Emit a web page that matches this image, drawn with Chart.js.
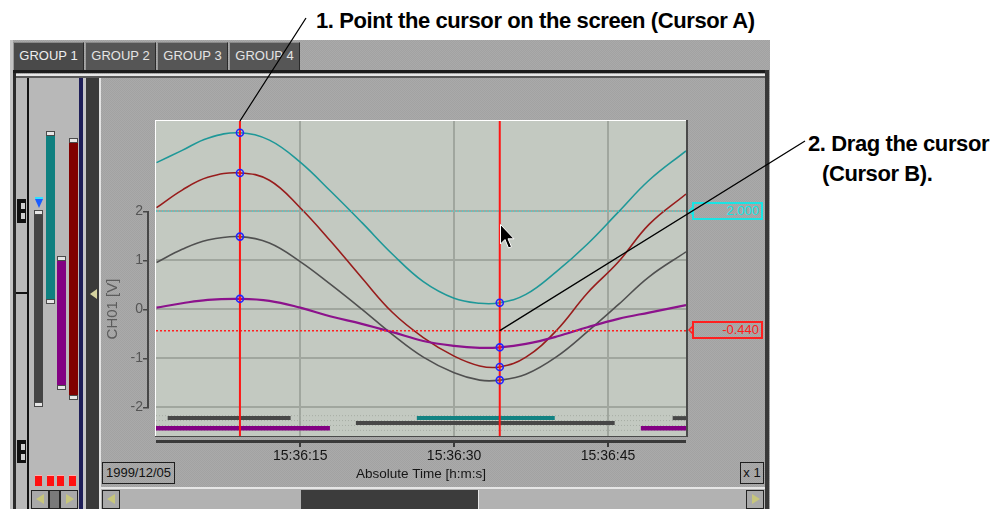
<!DOCTYPE html>
<html><head><meta charset="utf-8">
<script src="https://cdn.jsdelivr.net/npm/chart.js@4.4.1/dist/chart.umd.min.js"></script>
<style>
html,body{margin:0;padding:0;}
body{width:999px;height:509px;overflow:hidden;background:#fff;position:relative;font-family:"Liberation Sans",Arial,sans-serif;}
.a{position:absolute;box-sizing:border-box;}
.tex{background:repeating-conic-gradient(#a2a2a2 0 25%, #aaaaaa 0 50%) 0 0/2px 2px;}
.tab{position:absolute;top:42px;height:28px;box-sizing:border-box;background:#565656;color:#e4e4e4;font-size:13px;line-height:26px;text-align:center;border-top:1px solid #8a8a8a;border-left:1px solid #9a9a9a;border-right:1px solid #2a2a2a;}
.cap{position:absolute;width:9px;height:5px;background:#e6e6e6;border:1px solid #4a4a4a;box-sizing:border-box;}
.btn{position:absolute;box-sizing:border-box;border:1px solid #222;background:#a9a9a9;}
.tri{position:absolute;width:0;height:0;border-top:5px solid transparent;border-bottom:5px solid transparent;}
.note{position:absolute;font-weight:bold;font-size:22px;line-height:22px;letter-spacing:-0.4px;color:#000;white-space:nowrap;}
.vbox{position:absolute;box-sizing:border-box;height:18px;width:71px;font-size:13px;line-height:14px;text-align:right;padding-right:2px;}
</style></head>
<body>
<!-- window chrome -->
<div class="a tex" style="left:10px;top:40px;width:760px;height:469px;"></div>
<div class="a" style="left:10px;top:40px;width:3px;height:469px;background:#c4c4c4;"></div>
<div class="tab" style="left:13px;width:71px;background:#4a4a4a;color:#eeeeee;">GROUP 1</div>
<div class="tab" style="left:85px;width:71px;">GROUP 2</div>
<div class="tab" style="left:157px;width:71px;">GROUP 3</div>
<div class="tab" style="left:229px;width:71px;">GROUP 4</div>
<div class="a" style="left:13px;top:70px;width:755px;height:3px;background:#1c1c1c;"></div>
<div class="a" style="left:15px;top:74px;width:751px;height:2px;background:#e8e8e8;"></div>
<div class="a" style="left:15px;top:76px;width:751px;height:2px;background:#5a5a5a;"></div>
<div class="a" style="left:13px;top:73px;width:3px;height:436px;background:#2a2a2a;"></div>
<div class="a" style="left:765px;top:70px;width:4px;height:439px;background:#383838;"></div>
<!-- left strip -->
<div class="a" style="left:16px;top:78px;width:11px;height:431px;background:#b8b8b8;"></div>
<div class="a" style="left:27px;top:78px;width:2px;height:431px;background:#111;"></div>
<div class="a" style="left:16px;top:292px;width:12px;height:2px;background:#111;"></div>
<div class="a" style="left:17px;top:199px;width:9px;height:24px;background:#111;"></div>
<div class="a" style="left:21px;top:203px;width:4px;height:6px;background:#cfcfcf;"></div>
<div class="a" style="left:21px;top:213px;width:4px;height:6px;background:#cfcfcf;"></div>
<div class="a" style="left:17px;top:440px;width:9px;height:23px;background:#111;"></div>
<div class="a" style="left:21px;top:444px;width:4px;height:6px;background:#cfcfcf;"></div>
<div class="a" style="left:21px;top:454px;width:4px;height:6px;background:#cfcfcf;"></div>
<!-- level bars panel -->
<div class="a" style="left:29px;top:78px;width:50px;height:431px;background:#b8b8b8;"></div>
<div class="a" style="left:34px;top:212px;width:9px;height:193px;background:#444;"></div>
<div class="cap" style="left:34px;top:210px;"></div><div class="cap" style="left:34px;top:402px;"></div>
<div class="a" style="left:46px;top:133px;width:9px;height:170px;background:#0f8080;"></div>
<div class="cap" style="left:46px;top:131px;"></div><div class="cap" style="left:46px;top:299px;"></div>
<div class="a" style="left:57px;top:258px;width:9px;height:130px;background:#820082;"></div>
<div class="cap" style="left:57px;top:256px;"></div><div class="cap" style="left:57px;top:385px;"></div>
<div class="a" style="left:69px;top:140px;width:9px;height:258px;background:#800000;"></div>
<div class="cap" style="left:69px;top:138px;"></div><div class="cap" style="left:69px;top:395px;"></div>
<div class="a" style="left:35px;top:197px;width:8px;height:2px;background:#30e0ff;"></div>
<div class="a" style="left:35px;top:199px;width:0;height:0;border-left:4px solid transparent;border-right:4px solid transparent;border-top:9px solid #1a5cff;"></div>
<div class="a" style="left:35px;top:475px;width:7px;height:11px;background:#ff1010;border-top:1px solid #ffb0b0;"></div>
<div class="a" style="left:47px;top:475px;width:7px;height:11px;background:#ff1010;border-top:1px solid #ffb0b0;"></div>
<div class="a" style="left:57px;top:475px;width:7px;height:11px;background:#ff1010;border-top:1px solid #ffb0b0;"></div>
<div class="a" style="left:69px;top:475px;width:7px;height:11px;background:#ff1010;border-top:1px solid #ffb0b0;"></div>
<div class="btn" style="left:31px;top:490px;width:18px;height:19px;"></div>
<div class="tri" style="left:36px;top:494px;border-right:8px solid #c7c67c;"></div>
<div class="btn" style="left:49px;top:490px;width:11px;height:19px;background:#7a7a7a;"></div>
<div class="btn" style="left:60px;top:490px;width:18px;height:19px;"></div>
<div class="tri" style="left:66px;top:494px;border-left:8px solid #c7c67c;"></div>
<div class="a" style="left:79px;top:78px;width:4px;height:431px;background:#1e1e58;"></div>
<div class="a" style="left:83px;top:78px;width:3px;height:431px;background:#c6c6c6;"></div>
<div class="a" style="left:86px;top:78px;width:13px;height:431px;background:#3a3a3a;"></div>
<div class="tri" style="left:90px;top:289px;border-right:7px solid #d6d3a0;"></div>
<div class="a" style="left:99px;top:78px;width:2px;height:431px;background:#e2e2e2;"></div>
<!-- chart panel -->
<div class="a tex" style="left:101px;top:78px;width:664px;height:431px;"></div>
<div class="a" style="left:102px;top:462px;width:73px;height:22px;border:1px solid #1e1e1e;font-size:13px;line-height:20px;text-align:center;color:#111;">1999/12/05</div>
<div class="a" style="left:740px;top:462px;width:24px;height:22px;border:1px solid #1e1e1e;font-size:13px;line-height:20px;text-align:center;color:#111;">x 1</div>
<div class="a" style="left:101px;top:487px;width:664px;height:2px;background:#e6e6e6;"></div>
<div class="a" style="left:101px;top:489px;width:664px;height:20px;background:#b2b2b2;"></div>
<div class="btn" style="left:102px;top:490px;width:18px;height:19px;"></div>
<div class="tri" style="left:107px;top:494px;border-right:8px solid #c7c67c;"></div>
<div class="btn" style="left:746px;top:490px;width:18px;height:19px;"></div>
<div class="tri" style="left:752px;top:494px;border-left:8px solid #c7c67c;"></div>
<div class="a" style="left:301px;top:490px;width:178px;height:19px;background:#3c3c3c;border-right:1px solid #e8e8e8;"></div>
<div class="vbox" style="left:692px;top:202px;border:2px solid #1ae4e4;color:#10e6e6;">2.000</div>
<div class="vbox" style="left:692px;top:321px;border:2px solid #ff2020;color:#ff1a1a;">-0.440</div>
<svg class="a" style="left:0;top:0;" width="999" height="509">
  <polyline points="693,207 689,211 693,215" fill="none" stroke="#1ae4e4" stroke-width="1.5"/>
  <polyline points="693,326 689,330 693,334" fill="none" stroke="#ff2020" stroke-width="1.5"/>
</svg>
<!-- annotations -->
<div class="note" style="left:316px;top:10px;">1. Point the cursor on the screen (Cursor A)</div>
<div class="note" style="left:808px;top:133px;">2. Drag the cursor</div>
<div class="note" style="left:822px;top:163px;">(Cursor B).</div>

<canvas id="c" width="999" height="509" style="position:absolute;left:0;top:0;width:999px;height:509px;"></canvas>
<svg class="a" style="left:500px;top:224px;" width="18" height="28">
  <path d="M0.5,0.5 L0.5,20 L5,15.5 L8.5,24 L11.5,22.8 L8,14.8 L14,14.8 Z" fill="#000" stroke="#fff" stroke-width="1"/>
</svg>
<script>
// ---- data (seconds after 15:36:00, values in V) ----
const timeSec   = [1, 3.5, 6, 9.13, 12, 15, 18, 21, 24, 27, 30, 32.5, 34.45, 37, 40, 43, 46, 49, 52.6];
const tealCh    = [2.99, 3.24, 3.49, 3.60, 3.45, 3.00, 2.40, 1.77, 1.12, 0.56, 0.22, 0.12, 0.13, 0.30, 0.77, 1.33, 1.98, 2.63, 3.23];
const maroonCh  = [2.07, 2.43, 2.69, 2.78, 2.63, 2.07, 1.38, 0.64, -0.07, -0.58, -0.96, -1.16, -1.18, -0.98, -0.43, 0.33, 0.96, 1.73, 2.35];
const grayCh    = [0.95, 1.22, 1.41, 1.48, 1.35, 0.97, 0.50, 0.00, -0.52, -0.98, -1.30, -1.45, -1.45, -1.33, -0.97, -0.46, 0.09, 0.66, 1.17];
const purpleCh  = [0.03, 0.12, 0.19, 0.21, 0.17, 0.03, -0.15, -0.30, -0.47, -0.65, -0.75, -0.79, -0.78, -0.71, -0.56, -0.37, -0.20, -0.07, 0.08];
const cursorA = 9.13, cursorB = 34.45;
const refCyan = 2.0, refRed = -0.44;
const xTickSec = [15, 30, 45];
const xTickLabels = ['15:36:15', '15:36:30', '15:36:45'];
const yTickVals = [-2, -1, 0, 1, 2];
const yTickLabels = ['-2', '-1', '0', '1', '2'];
const xMin = 0.95, xMax = 52.6, yMin = -2.59, yMax = 3.84;
// event lanes (levels) and on-intervals [start, end] in seconds
const laneLines = [-2.175, -2.275, -2.375, -2.475];
const lane1 = -2.225, lane2 = -2.325, lane3 = -2.43;
const grayEvA   = [[2.09, 14.07], [51.3, 52.6]];
const tealEv    = [[26.37, 39.81]];
const grayEvB   = [[20.43, 45.65]];
const purpleEv  = [[0.95, 17.9], [48.2, 52.6]];

const COL = {teal:'#1e9898', maroon:'#981c1c', gray:'#505050', purple:'#8c128c'};
const pts = (ys) => timeSec.map((t, i) => ({x: t, y: ys[i]}));
const iA = timeSec.indexOf(cursorA), iB = timeSec.indexOf(cursorB);
const markerData = [tealCh, maroonCh, grayCh, purpleCh].flatMap(s => [{x: cursorA, y: s[iA]}, {x: cursorB, y: s[iB]}]);

const datasets = [];
datasets.push({data: markerData, showLine:false, pointRadius:3.5, pointBorderWidth:1.6, pointBorderColor:'#2424ff', pointBackgroundColor:'rgba(0,0,0,0)', order:0});
[cursorA, cursorB].forEach(c => datasets.push({data:[{x:c,y:yMin},{x:c,y:yMax}], borderColor:'#ff1414', borderWidth:2, pointRadius:0, order:1}));
datasets.push({data:[{x:xMin,y:refCyan},{x:xMax,y:refCyan}], borderColor:'#22e6e6', borderWidth:1, borderDash:[1,2], pointRadius:0, order:2});
datasets.push({data:[{x:xMin,y:refRed},{x:xMax,y:refRed}], borderColor:'#ff2020', borderWidth:1.5, borderDash:[2,2], pointRadius:0, order:2});
[[purpleCh, COL.purple, 2.2],[grayCh, COL.gray, 1.6],[maroonCh, COL.maroon, 1.6],[tealCh, COL.teal, 1.6]].forEach((s, k) =>
  datasets.push({data: pts(s[0]), borderColor: s[1], borderWidth: s[2], pointRadius: 0, tension: 0.4, order: 3 + k}));
const addEv = (list, lvl, color, w) => list.forEach(([a, b]) => datasets.push({data:[{x:a,y:lvl},{x:b,y:lvl}], borderColor:color, borderWidth:w, borderCapStyle:'butt', pointRadius:0, order:8}));
addEv(grayEvA, lane1, '#474747', 4);
addEv(tealEv, lane1, '#128282', 4);
addEv(grayEvB, lane2, '#474747', 4);
addEv(purpleEv, lane3, '#820082', 4.5);
laneLines.forEach(v => datasets.push({data:[{x:xMin,y:v},{x:xMax,y:v}], borderColor:'#a6aca4', borderWidth:1, borderDash:[1,2], pointRadius:0, order:9}));

const FONT = '"Liberation Sans", Arial, sans-serif';
const frame = {
  id: 'frame',
  beforeDraw(chart) {
    const {ctx, chartArea: a} = chart;
    ctx.save();
    ctx.fillStyle = '#c3c9c1';
    ctx.fillRect(a.left, a.top, a.right - a.left, a.bottom - a.top);
    ctx.restore();
  },
  afterDraw(chart) {
    const {ctx, chartArea: a, scales: {x, y}} = chart;
    ctx.save();
    ctx.fillStyle = '#ffffff';
    ctx.fillRect(a.left - 1, a.top - 1, a.right - a.left + 1, 1);
    ctx.fillRect(a.left - 1, a.top - 1, 1, a.bottom - a.top + 1);
    ctx.fillStyle = '#4a4a4a';
    ctx.fillRect(a.right, a.top - 1, 2, a.bottom - a.top + 2);
    ctx.fillRect(a.left - 1, a.bottom, a.right - a.left + 3, 1);
    // detached time axis line + ticks
    ctx.fillStyle = '#3a3a3a';
    ctx.fillRect(a.left, a.bottom + 4, a.right - a.left, 3);
    x.ticks.forEach(t => { const px = Math.round(x.getPixelForValue(t.value)); ctx.fillRect(px - 1, a.bottom + 4, 2, 7); });
    // value axis bracket
    const yT = Math.round(y.getPixelForValue(Math.max(...yTickVals)));
    const yB = Math.round(y.getPixelForValue(Math.min(...yTickVals)));
    ctx.fillStyle = '#474747';
    ctx.fillRect(a.left - 9, yT, 2, yB - yT + 1);
    y.ticks.forEach(t => { const py = Math.round(y.getPixelForValue(t.value)); ctx.fillRect(a.left - 13, py, 6, 1.5); });
    // y title
    ctx.save();
    ctx.translate(a.left - 43, (yT + yB) / 2);
    ctx.rotate(-Math.PI / 2);
    ctx.font = '15px ' + FONT;
    ctx.fillStyle = '#5c5c5c';
    ctx.textAlign = 'center';
    ctx.textBaseline = 'middle';
    ctx.fillText('CH01 [V]', 0, 0);
    ctx.restore();
    // leader lines from the annotations to the cursors
    ctx.strokeStyle = '#000';
    ctx.lineWidth = 1.3;
    ctx.beginPath();
    ctx.moveTo(306, 18);
    ctx.lineTo(x.getPixelForValue(cursorA), a.top);
    ctx.moveTo(805, 141);
    ctx.lineTo(x.getPixelForValue(cursorB), y.getPixelForValue(refRed));
    ctx.stroke();
    ctx.restore();
  }
};

new Chart(document.getElementById('c'), {
  type: 'line',
  data: { datasets },
  options: {
    responsive: false, animation: false, devicePixelRatio: 1,
    layout: { padding: {top: 121, right: 313, left: 0, bottom: 0}, autoPadding: false },
    plugins: { legend: {display: false}, tooltip: {enabled: false} },
    events: [],
    scales: {
      x: {
        type: 'linear', min: xMin, max: xMax,
        afterBuildTicks: s => { s.ticks = xTickSec.map(v => ({value: v})); },
        afterFit: s => { s.height = 73; },
        ticks: { autoSkip: false, maxRotation: 0, padding: 2, color: '#151515', font: {family: FONT, size: 14},
                 callback: (v) => xTickLabels[xTickSec.indexOf(v)] },
        grid: { color: '#a0a69e', lineWidth: 2, tickLength: 10, tickColor: 'rgba(0,0,0,0)' },
        border: { display: false },
        title: { display: true, text: 'Absolute Time [h:m:s]', color: '#151515', font: {family: FONT, size: 13.5}, padding: {top: 0, bottom: 27} }
      },
      y: {
        type: 'linear', min: yMin, max: yMax,
        afterBuildTicks: s => { s.ticks = yTickVals.map(v => ({value: v})); },
        afterFit: s => { s.width = 156; },
        ticks: { padding: 0, color: '#555555', font: {family: FONT, size: 14},
                 callback: (v) => yTickLabels[yTickVals.indexOf(v)] },
        grid: { color: '#a0a69e', lineWidth: 2, tickLength: 13, tickColor: 'rgba(0,0,0,0)' },
        border: { display: false }
      }
    }
  },
  plugins: [frame]
});
</script>
</body></html>
